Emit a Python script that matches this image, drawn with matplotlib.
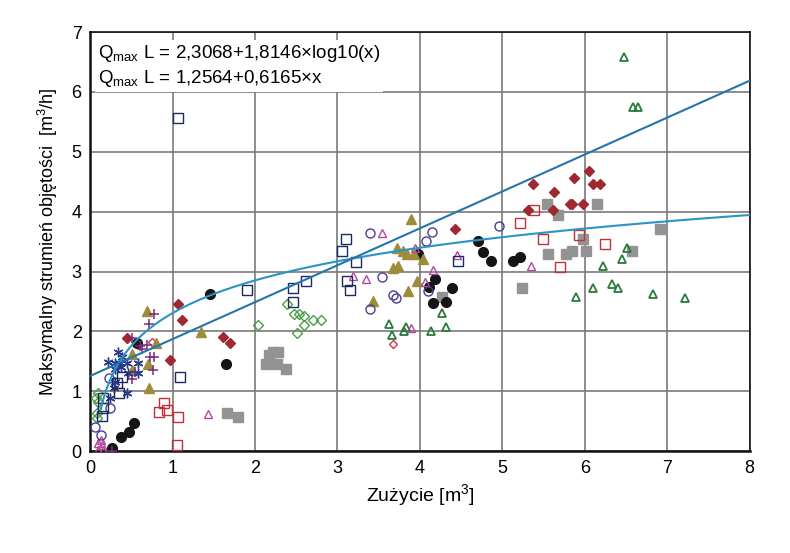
import numpy as np
import matplotlib
matplotlib.use("Agg")
import matplotlib.pyplot as plt
from matplotlib import font_manager

names = {f.name for f in font_manager.fontManager.ttflist}
base = 'Liberation Sans Narrow' if 'Liberation Sans Narrow' in names else 'Liberation Sans'
plt.rcParams['font.family'] = [base, 'DejaVu Sans']
plt.rcParams['mathtext.fontset'] = 'custom'
plt.rcParams['mathtext.rm'] = base
plt.rcParams['mathtext.it'] = base

# ---------------- data ----------------
navy_sq_x = [1.07, 1.09, 0.39, 0.33, 0.35, 0.16, 0.16, 0.15, 1.90, 2.46, 2.62, 2.46, 3.12, 3.15, 3.05, 3.10, 3.23, 4.46]
navy_sq_y = [5.57, 1.24, 1.24, 1.14, 0.97, 0.89, 0.72, 0.59, 2.69, 2.72, 2.84, 2.49, 2.84, 2.69, 3.34, 3.54, 3.16, 3.18]

circ_x = [0.23, 0.24, 0.06, 0.13, 3.40, 3.54, 3.67, 3.71, 3.40, 4.15, 4.07, 4.10, 4.96]
circ_y = [1.22, 0.72, 0.40, 0.27, 3.65, 2.91, 2.61, 2.56, 2.37, 3.66, 3.51, 2.68, 3.76]

mtri_x = [0.10, 0.15, 0.10, 0.16, 0.13, 1.43, 3.54, 3.19, 3.35, 3.94, 4.16, 4.06, 4.45, 3.89, 5.35]
mtri_y = [0.13, 0.10, 0.02, 0.02, 0.18, 0.62, 3.64, 2.93, 2.87, 3.39, 3.03, 2.83, 3.28, 2.06, 3.09]

olive_x = [0.69, 0.80, 0.70, 0.72, 0.51, 0.51, 1.35, 3.89, 3.72, 3.79, 3.84, 3.93, 4.04, 3.68, 3.74, 3.96, 3.86, 3.43]
olive_y = [2.34, 1.81, 1.45, 1.05, 1.62, 1.35, 1.99, 3.88, 3.40, 3.34, 3.29, 3.29, 3.21, 3.06, 3.10, 2.84, 2.68, 2.51]

plus_x = [0.77, 0.71, 0.51, 0.63, 0.69, 0.73, 0.77, 0.76, 0.51, 0.27, 0.60, 0.55]
plus_y = [2.30, 2.12, 1.89, 1.70, 1.77, 1.57, 1.57, 1.35, 1.20, 0.00, 1.75, 1.32]

ast_x = [0.34, 0.39, 0.22, 0.30, 0.36, 0.45, 0.58, 0.58, 0.46, 0.30, 0.24, 0.45, 0.29, 0.38, 0.30]
ast_y = [1.66, 1.57, 1.49, 1.47, 1.47, 1.47, 1.47, 1.30, 1.30, 1.37, 0.89, 0.97, 1.05, 1.40, 1.15]

rdia_x = [1.07, 1.12, 0.97, 0.45, 1.61, 1.70, 4.43, 5.37, 5.63, 5.87, 6.05, 6.10, 6.18, 5.31, 5.61, 5.82, 5.85, 5.98]
rdia_y = [2.46, 2.19, 1.52, 1.89, 1.91, 1.81, 3.71, 4.46, 4.33, 4.57, 4.68, 4.46, 4.46, 4.03, 4.03, 4.13, 4.13, 4.13]

rsq_x = [0.90, 0.84, 0.93, 1.07, 1.05, 5.39, 5.21, 5.49, 5.93, 6.25, 5.70]
rsq_y = [0.80, 0.65, 0.69, 0.57, 0.10, 4.03, 3.81, 3.54, 3.61, 3.46, 3.08]

blk_x = [0.27, 0.38, 0.47, 0.53, 0.57, 1.45, 1.65, 3.98, 4.18, 4.11, 4.39, 4.16, 4.32, 4.70, 4.77, 4.86, 5.13, 5.21]
blk_y = [0.05, 0.23, 0.32, 0.48, 1.81, 2.63, 1.45, 3.29, 2.87, 2.74, 2.73, 2.47, 2.50, 3.51, 3.33, 3.18, 3.18, 3.24]

gdia_x = [0.10, 0.07, 0.10, 0.08, 0.08, 2.04, 2.39, 2.47, 2.53, 2.59, 2.59, 2.51, 2.70, 2.80]
gdia_y = [0.97, 0.89, 0.82, 0.64, 0.55, 2.11, 2.46, 2.29, 2.29, 2.26, 2.11, 1.97, 2.19, 2.19]

gray_x = [1.66, 1.80, 2.17, 2.22, 2.28, 2.13, 2.27, 2.38, 4.27, 5.54, 5.67, 6.15, 5.98, 5.55, 5.77, 5.84, 6.01, 6.57, 5.24, 6.91]
gray_y = [0.64, 0.57, 1.61, 1.66, 1.66, 1.45, 1.45, 1.37, 2.58, 4.13, 3.95, 4.13, 3.54, 3.29, 3.29, 3.34, 3.34, 3.34, 2.73, 3.71]

gtri_x = [3.62, 3.66, 3.83, 3.81, 4.13, 4.27, 4.32, 5.89, 6.10, 6.22, 6.33, 6.40, 6.45, 6.51, 6.48, 6.58, 6.64, 6.83, 7.21]
gtri_y = [2.12, 1.94, 2.07, 2.01, 2.01, 2.31, 2.07, 2.58, 2.73, 3.09, 2.79, 2.73, 3.21, 3.39, 6.59, 5.75, 5.75, 2.63, 2.56]

rodia_x = [3.68, 0.75]
rodia_y = [1.79, 1.82]

# regression coefficients
log_a, log_b = 2.3068, 1.8146
lin_a, lin_b = 1.2564, 0.6165

x_ticks = [0, 1, 2, 3, 4, 5, 6, 7, 8]
y_ticks = [0, 1, 2, 3, 4, 5, 6, 7]

# ---------------- plot ----------------
fig = plt.figure(figsize=(7.9, 5.53), dpi=100)
ax = fig.add_axes([0.114, 0.184, 0.835, 0.758])

ax.set_xlim(0, 8)
ax.set_ylim(0, 7)
ax.set_xticks(x_ticks)
ax.set_yticks(y_ticks)
ax.grid(True, color='#7a7a7a', linewidth=1.2)
ax.set_axisbelow(True)
ax.tick_params(length=0, labelsize=13, pad=6)
for s in ax.spines.values():
    s.set_color('#111111')
    s.set_linewidth(1.2)
ax.spines['left'].set_linewidth(1.8)
ax.spines['bottom'].set_linewidth(1.8)

ms = 6.5
mew = 1.0
kw = dict(linestyle='none', zorder=3)
ax.plot(gray_x, gray_y, marker='s', ms=ms, color='#939393', mec='#939393', **kw)
ax.plot(gdia_x, gdia_y, marker='D', ms=5, mfc='none', mec='#4c9c4c', mew=mew, **kw)
ax.plot(gtri_x, gtri_y, marker='^', ms=5.5, mfc='none', mec='#2a7a3a', mew=1.3, **kw)
ax.plot(blk_x, blk_y, marker='o', ms=7, color='#151515', **kw)
ax.plot(rsq_x, rsq_y, marker='s', ms=ms, mfc='none', mec='#c0303c', mew=mew, **kw)
ax.plot(rdia_x, rdia_y, marker='D', ms=5, color='#a02830', **kw)
ax.plot(rodia_x, rodia_y, marker='D', ms=4.5, mfc='none', mec='#d03a4a', mew=mew, **kw)
ax.plot(olive_x, olive_y, marker='^', ms=7, color='#9c8c3c', **kw)
ax.plot(mtri_x, mtri_y, marker='^', ms=6, mfc='none', mec='#b2479c', mew=mew, **kw)
ax.plot(circ_x, circ_y, marker='o', ms=6.5, mfc='none', mec='#4a3c92', mew=mew, **kw)
ax.plot(plus_x, plus_y, marker='+', ms=7, mec='#7a2a7c', mew=1.1, **kw)
ax.plot(ast_x, ast_y, marker=(6, 2, 0), ms=7, mec='#2a3a8c', mew=1.0, **kw)
ax.plot(navy_sq_x, navy_sq_y, marker='s', ms=ms, mfc='none', mec='#1c2a5c', mew=mew, **kw)

xl = np.linspace(0.13, 8, 400)
ax.plot(xl, log_a + log_b * np.log10(xl), color='#2b93c6', lw=1.5, zorder=4)
xx = np.linspace(0, 8, 2)
ax.plot(xx, lin_a + lin_b * xx, color='#2476a8', lw=1.5, zorder=4)

eq1 = r"Q$_{\mathrm{max}}$ L = 2,3068+1,8146×log10(x)"
eq2 = r"Q$_{\mathrm{max}}$ L = 1,2564+0,6165×x"
ax.text(0.012, 0.975, eq1 + "\n" + eq2, transform=ax.transAxes, va='top', ha='left',
        fontsize=13.5, linespacing=1.3, zorder=6,
        bbox=dict(facecolor='white', edgecolor='none', pad=2))

ax.set_xlabel(r"Zużycie [m$^3$]", fontsize=14, labelpad=4)
ax.set_ylabel(r"Maksymalny strumień objętości  [m$^3$/h]", fontsize=13, labelpad=8)

fig.savefig("out.png", dpi=100)
